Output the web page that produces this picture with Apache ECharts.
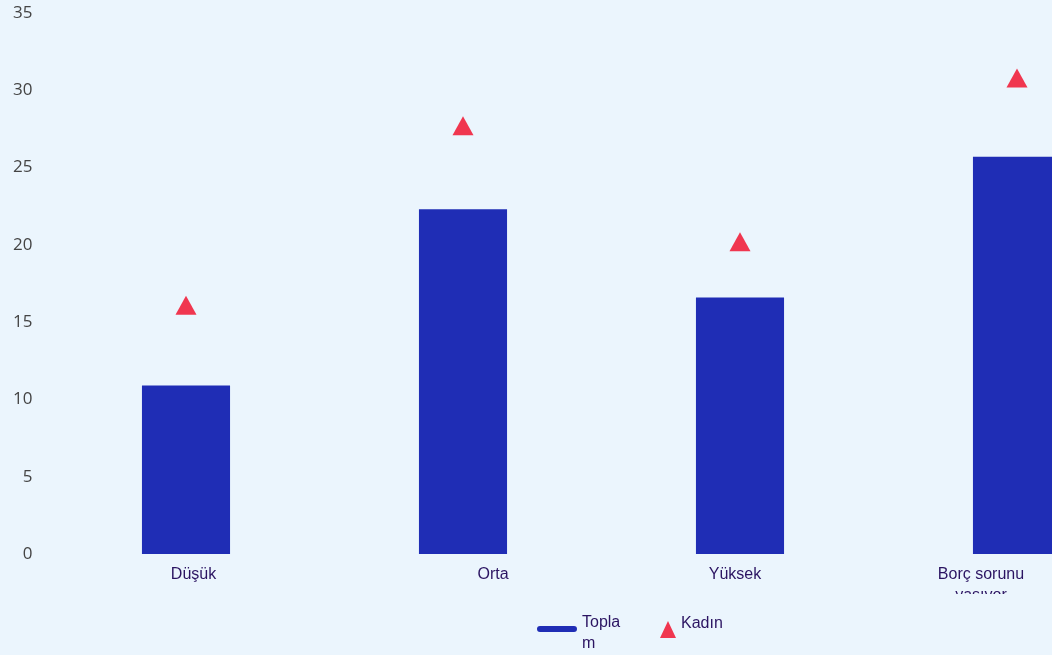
<!DOCTYPE html>
<html><head><meta charset="utf-8">
<script src="https://cdn.jsdelivr.net/npm/echarts@6/dist/echarts.min.js"></script>
<style>html,body{margin:0;padding:0;background:#ebf5fd;}#c{width:1052px;height:655px;}</style>
</head><body><div id="c"></div>
<script>
const categories = ['Düşük', 'Orta', 'Yüksek', 'Borç sorunu yaşıyor'];
const toplam = [10.9, 22.3, 16.6, 25.7];
const kadin = [16.1, 27.7, 20.2, 30.8];
const yTicks = [0, 5, 10, 15, 20, 25, 30, 35];

const labelFont = 'Liberation Sans, Arial, sans-serif';
const labelShift = [[0, 0, 0, 15], [0, 0, 0, 60], [0, 10, 0, 0], [0, 72, 0, 0]];
const richStyles = {};
labelShift.forEach(function (p, i) {
  richStyles['l' + i] = { fontFamily: labelFont, fontSize: 16, color: '#2b1462', lineHeight: 21, padding: p };
});

const lineIcon = 'path://M3,0 L37,0 A3,3 0 0 1 37,6 L3,6 A3,3 0 0 1 3,0 Z M0,14 L40,14 L40,14 L0,14 Z';
const triIcon = 'path://M0,0 L16,0 L16,0 L0,0 Z M8,12 L16,29 L0,29 Z';

const chart = echarts.init(document.getElementById('c'));
chart.setOption({
  backgroundColor: '#ebf5fd',
  animation: false,
  grid: { left: 47.5, width: 1108, top: 13, bottom: 101, containLabel: false, outerBoundsMode: 'none' },
  legend: [
    { data: [{ name: 'Toplam', icon: lineIcon }], left: 537, top: 612, padding: 0, itemWidth: 40, itemHeight: 14, itemGap: 5,
      textStyle: { fontFamily: labelFont, fontSize: 16, color: '#2b1462', width: 48, overflow: 'breakAll', lineHeight: 21 } },
    { data: [{ name: 'Kadın', icon: triIcon }], left: 660, top: 609, padding: 0, itemWidth: 16, itemHeight: 29, itemGap: 5,
      textStyle: { fontFamily: labelFont, fontSize: 16, color: '#2b1462' } }
  ],
  xAxis: {
    type: 'category', data: categories,
    axisLine: { show: false }, axisTick: { show: false },
    axisLabel: {
      margin: 10, interval: 0, hideOverlap: false,
      fontFamily: labelFont, fontSize: 16, color: '#2b1462', lineHeight: 21,
      formatter: function (v, i) {
        const t = i === 3 ? 'Borç sorunu\nyaşıyor' : v;
        return t.split('\n').map(function (s) { return '{l' + i + '|' + s + '}'; }).join('\n');
      },
      rich: richStyles
    }
  },
  yAxis: {
    type: 'value', min: 0, max: 35, interval: 5,
    axisLine: { show: false }, axisTick: { show: false }, splitLine: { show: false },
    axisLabel: { margin: 15, fontFamily: 'Open Sans, Noto Sans, sans-serif', fontSize: 17, color: '#444' }
  },
  series: [
    { name: 'Toplam', type: 'bar', data: toplam, barWidth: '31.8%', itemStyle: { color: '#1f2db5' } },
    { name: 'Kadın', type: 'scatter', data: kadin, symbol: 'triangle', symbolSize: [21, 19], itemStyle: { color: '#f0364f', opacity: 1 } }
  ],
  graphic: {
    elements: [
      { type: 'rect', x: 900, y: 594, z: 100, shape: { x: 0, y: 0, width: 152, height: 16 }, style: { fill: '#ebf5fd' } }
    ]
  }
});
</script></body></html>
